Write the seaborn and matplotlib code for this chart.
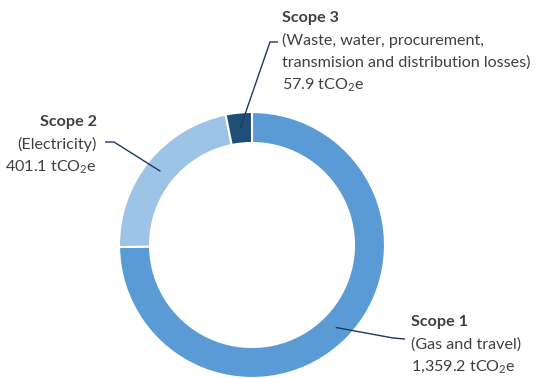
import numpy as np
import matplotlib
matplotlib.use("Agg")
import matplotlib.pyplot as plt
import seaborn as sns

# Data
scopes = ["Scope 1", "Scope 2", "Scope 3"]
descriptions = ["(Gas and travel)", "(Electricity)",
                "(Waste, water, procurement,\ntransmision and distribution losses)"]
values = [1359.2, 401.1, 57.9]
value_labels = ["1,359.2", "401.1", "57.9"]
colors = ["#5B9BD5", "#9DC3E6", "#1F4E79"]

sns.set_theme(style="white")
plt.rcParams["font.family"] = ["Lato", "DejaVu Sans"]
plt.rcParams["mathtext.fontset"] = "custom"
plt.rcParams["mathtext.rm"] = "Lato"
plt.rcParams["mathtext.it"] = "Lato:italic"
plt.rcParams["mathtext.bf"] = "Lato:bold"

W, H = 544, 378
fig = plt.figure(figsize=(W / 100, H / 100), dpi=100)
ax = fig.add_axes([0, 0, 1, 1])
ax.set_xlim(0, W)
ax.set_ylim(0, H)
ax.set_aspect("equal")
ax.axis("off")

cx, cy = 252, H - 245
R = 133
ring = 31
wedges, _ = ax.pie(values, colors=colors, startangle=90, counterclock=False,
                   center=(cx, cy), radius=R, frame=True,
                   wedgeprops=dict(width=ring, edgecolor="white", linewidth=1.5))
ax.set_xlim(0, W)
ax.set_ylim(0, H)
ax.axis("off")

txt_color = "#404040"
line_color = "#1F3864"
fs = 11.6
rmid = R - ring / 2

layout = {
    0: dict(x=411, y0=322, ha="left", knee=(393, 338), end=(405, 339)),
    1: dict(x=97, y0=122, ha="right", knee=(114, 142), end=(105, 142)),
    2: dict(x=282, y0=18, ha="left", knee=(270, 42), end=(278, 42)),
}
step = 22.5
for i, w in enumerate(wedges):
    ang = np.deg2rad((w.theta1 + w.theta2) / 2)
    px, py = cx + rmid * np.cos(ang), cy + rmid * np.sin(ang)
    L = layout[i]
    kx, ky = L["knee"][0], H - L["knee"][1]
    ex, ey = L["end"][0], H - L["end"][1]
    ax.plot([px, kx, ex], [py, ky, ey], color=line_color, lw=1.0,
            solid_capstyle="butt")
    lines = descriptions[i].split("\n") + [value_labels[i] + r" tCO$_2$e"]
    ax.text(L["x"], H - L["y0"], scopes[i], ha=L["ha"], va="center",
            fontsize=fs, fontweight="bold", color=txt_color)
    for j, t in enumerate(lines):
        ax.text(L["x"], H - L["y0"] - step * (j + 1), t, ha=L["ha"], va="center",
                fontsize=fs, color=txt_color)

fig.savefig("out.png", dpi=100)
